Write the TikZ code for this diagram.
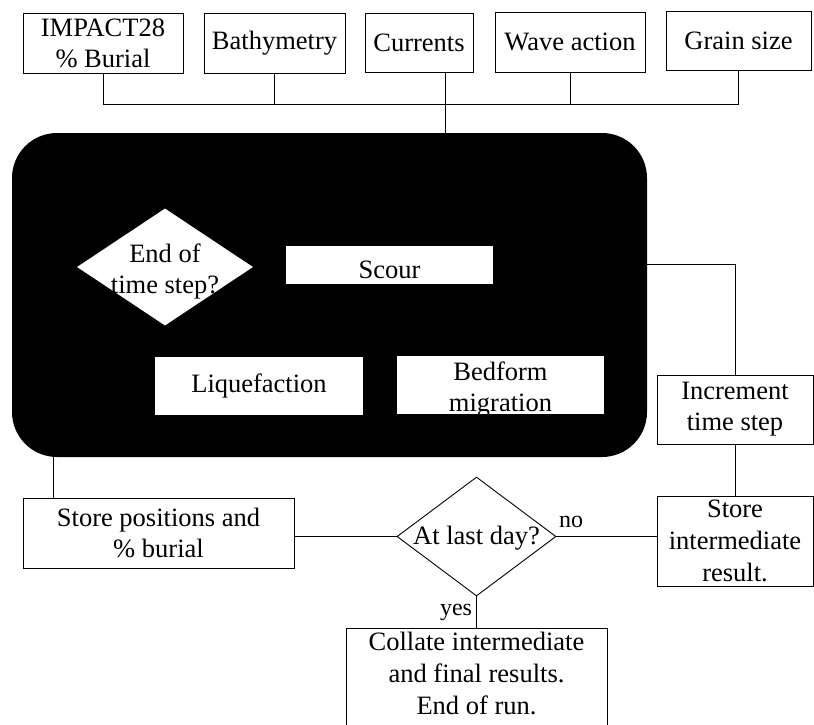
\documentclass[tikz,border=0pt]{standalone}
\usepackage{fontspec}
\setmainfont{Liberation Serif}
\usetikzlibrary{shapes.geometric}
\begin{document}
\begin{tikzpicture}[x=1pt,y=-1pt,
  every node/.style={font=\fontsize{26.5}{31}\selectfont, align=center, inner sep=0pt},
  box/.style={draw, rectangle, line width=0.9pt, fill=white},
  wbox/.style={rectangle, fill=white},
  conn/.style={line width=0.9pt},
  lbl/.style={font=\fontsize{24}{28}\selectfont}]
\useasboundingbox (0,0) rectangle (814,725);
\fill[white] (0,0) rectangle (814,725);
% top inputs
\node[box, minimum width=160pt, minimum height=60pt] (imp) at (103,43) {IMPACT28\\\% Burial};
\node[box, minimum width=141pt, minimum height=60pt] (bathy) at (274.5,43) {Bathymetry};
\node[box, minimum width=108pt, minimum height=59pt] (cur) at (419,42.5) {Currents};
\node[box, minimum width=150pt, minimum height=60pt] (wave) at (570,42) {Wave action};
\node[box, minimum width=145pt, minimum height=59pt] (grain) at (738.5,40.5) {Grain size};
\coordinate (bus) at (0,104);
% black process block
\node[rectangle, fill=black, rounded corners=45pt, minimum width=635pt, minimum height=324pt] (blk) at (329.5,295) {};
\node[diamond, fill=white, minimum width=176pt, minimum height=117pt] (eot) at (165,267) {};
\node (eottext) at (165,271) {End of\\time step?};
\node[wbox, minimum width=207pt, minimum height=38pt] (scour) at (389.5,265) {};
\node (scourtext) at (389.5,270) {Scour};
\node[wbox, minimum width=208pt, minimum height=58pt] (liq) at (259,386) {Liquefaction};
\node[wbox, minimum width=207pt, minimum height=58pt] (bed) at (500.5,385) {};
\node (bedtext) at (500.5,390) {Bedform\\migration};
% right loop
\node[box, minimum width=156pt, minimum height=69pt] (incr) at (735,409.5) {Increment\\time step};
\node[box, minimum width=156pt, minimum height=90pt, font=\fontsize{26.5}{32}\selectfont] (storeint) at (735,541) {Store\\intermediate\\result.};
\node[diamond, draw, line width=0.9pt, fill=white, minimum width=159pt, minimum height=119pt] (last) at (476.5,536.5) {};
\node (lasttext) at (476.5,538) {At last day?};
\node[box, minimum width=271pt, minimum height=70pt] (storepos) at (158.5,533) {Store positions and\\\% burial};
\node[box, minimum width=261pt, minimum height=102pt] (collate) at (476.5,679) {};
\node[font=\fontsize{26.5}{32}\selectfont] (collatetext) at (476.5,673) {Collate intermediate\\and final results.\\End of run.};
% connectors
\draw[conn] (imp.south) -- (imp.south |- bus) -- (grain.south |- bus) -- (grain.south);
\draw[conn] (bathy.south) -- (bathy.south |- bus);
\draw[conn] (wave.south) -- (wave.south |- bus);
\draw[conn] ([xshift=26pt]cur.south) -- ([xshift=26pt]cur.south |- blk.north);
\draw[conn] ([yshift=31pt]blk.east) -| (incr.north);
\draw[conn] (incr.south) -- (storeint.north);
\draw[conn] (last.east) -- (last.east -| storeint.west);
\draw[conn] (last.west) -- (last.west -| storepos.east);
\draw[conn] ([xshift=-105.5pt]storepos.north) -- ([xshift=-105.5pt]storepos.north |- blk.south);
\draw[conn] (last.south) -- (collate.north);
\node[lbl] (nolbl) at (571,522) {no};
\node[lbl] (yeslbl) at (456,612) {yes};
\end{tikzpicture}
\end{document}
